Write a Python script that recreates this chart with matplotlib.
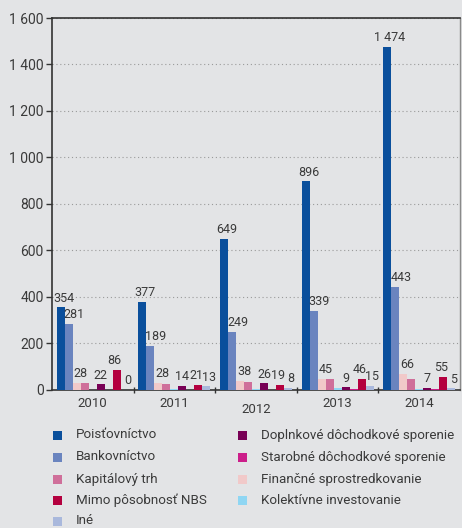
import numpy as np
import matplotlib.pyplot as plt
from matplotlib.patches import Rectangle
from matplotlib.ticker import FuncFormatter

plt.rcParams['font.family'] = ['Roboto', 'DejaVu Sans']

years = ["2010", "2011", "2012", "2013", "2014"]

# bar order inside each year group
poistovnictvo = [354, 377, 649, 896, 1474]
bankovnictvo = [281, 189, 249, 339, 443]
financne_sprostredkovanie = [28, 28, 38, 45, 66]
kapitalovy_trh = [28, 23, 34, 45, 46]
kolektivne_investovanie = [0, 1, 1, 6, 2]
doplnkove_dds = [22, 14, 26, 9, 7]
starobne_dds = [0, 0, 0, 2, 3]
mimo_nbs = [86, 21, 19, 46, 55]
ine = [0, 13, 8, 15, 5]

series = [
    ("Poisťovníctvo", poistovnictvo, "#0a4f9c", True),
    ("Bankovníctvo", bankovnictvo, "#6a84bf", True),
    ("Finančné sprostredkovanie", financne_sprostredkovanie, "#f1c9c9", True),
    ("Kapitálový trh", kapitalovy_trh, "#cf6f9a", False),
    ("Kolektívne investovanie", kolektivne_investovanie, "#8fd6f3", False),
    ("Doplnkové dôchodkové sporenie", doplnkove_dds, "#780055", True),
    ("Starobné dôchodkové sporenie", starobne_dds, "#cc1e8a", False),
    ("Mimo pôsobnosť NBS", mimo_nbs, "#b4003f", True),
    ("Iné", ine, "#a9b8dc", True),
]

# label x offsets (points) per series, to mimic the reference placement
label_dx = {"Poisťovníctvo": 2, "Bankovníctvo": 4, "Finančné sprostredkovanie": 3,
            "Doplnkové dôchodkové sporenie": 0, "Mimo pôsobnosť NBS": -1.5, "Iné": 2}

legend_col1 = ["Poisťovníctvo", "Bankovníctvo", "Kapitálový trh", "Mimo pôsobnosť NBS", "Iné"]
legend_col2 = ["Doplnkové dôchodkové sporenie", "Starobné dôchodkové sporenie",
               "Finančné sprostredkovanie", "Kolektívne investovanie"]

BG = "#e3e4e6"
TXT = "#3a3a3a"
W, H = 462, 528

fig = plt.figure(figsize=(W / 100, H / 100), dpi=100, facecolor=BG)
ax = fig.add_axes([52 / W, 1 - 389.5 / H, (460 - 52) / W, (389.5 - 18) / H])
ax.set_facecolor(BG)

n = len(series)
bw = 0.098
x = np.arange(len(years))
for i, (name, vals, col, lab) in enumerate(series):
    pos = x + (i - (n - 1) / 2) * bw
    ax.bar(pos, vals, width=bw, color=col, zorder=3, linewidth=0)
    if lab:
        for p, v in zip(pos, vals):
            ax.annotate(str(v).replace("1474", "1 474"), (p, v), xytext=(label_dx[name], 2),
                        textcoords="offset points", ha="center", va="bottom",
                        fontsize=9, color=TXT, zorder=4)

ax.set_xlim(-0.5, len(years) - 0.5)
ax.set_ylim(0, 1600)
ax.set_yticks(range(0, 1601, 200))
ax.yaxis.set_major_formatter(FuncFormatter(lambda v, _: f"{int(v):,}".replace(",", " ")))
ax.grid(axis="y", linestyle=(0, (1, 2.5)), color="#9a9a9a", linewidth=0.8, zorder=1)

ax.set_xticks(np.arange(0.5, len(years) - 1, 1.0))
ax.set_xticklabels([])
ax.tick_params(axis="x", length=5, width=1, color="#333333", direction="inout")
ax.tick_params(axis="y", length=4, width=1, color="#333333", labelsize=10,
               labelcolor=TXT, pad=2)
for i, yr in enumerate(years):
    dy = -14.5 if yr == "2012" else -10
    ax.annotate(yr, (i, 0), xytext=(0, dy), textcoords="offset points",
                ha="center", va="center", fontsize=9.5, color=TXT)

for s in ["left", "bottom", "top"]:
    ax.spines[s].set_color("#333333")
    ax.spines[s].set_linewidth(1.2)
ax.spines["right"].set_color("#8a8a8a")
ax.spines["right"].set_linewidth(1.0)

colors = {name: col for name, _, col, _ in series}


def legend_item(name, px, py):
    fig.add_artist(Rectangle(((px - 4.5) / W, 1 - (py + 4.5) / H), 9 / W, 9 / H,
                             transform=fig.transFigure, color=colors[name], linewidth=0))
    fig.text((px + 19) / W, 1 - py / H, name, ha="left", va="center",
             fontsize=9.6, color=TXT)


row_y = [435, 457, 479, 500, 521]
for name, py in zip(legend_col1, row_y):
    legend_item(name, 57, py)
for name, py in zip(legend_col2, row_y):
    legend_item(name, 242, py)

fig.savefig("out.png", dpi=100, facecolor=BG)
